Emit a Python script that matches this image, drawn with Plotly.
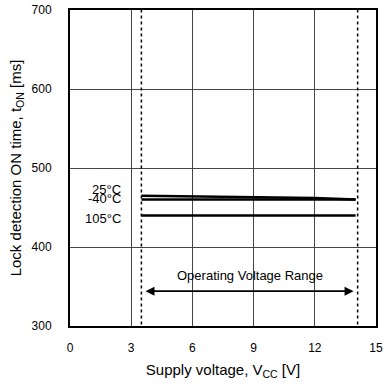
import plotly.graph_objects as go

# Data
vcc = [3.5, 6, 9, 12, 14]
t_25 = [465, 464, 463, 462, 460]
t_m40 = [460, 460, 460, 460, 460]
t_105 = [440, 440, 440, 440, 440]
series_labels = ["25°C", "-40°C", "105°C"]
label_y = [473, 461, 436]
label_x = 2.6
op_range = [3.5, 14.1]
arrow_y = 344
op_label = "Operating Voltage Range"
op_label_pos = [8.8, 364]

x_ticks = [0, 3, 6, 9, 12, 15]
y_ticks = [300, 400, 500, 600, 700]

font_family = "Liberation Sans, Arial, sans-serif"

fig = go.Figure()
for ys in [t_25, t_m40, t_105]:
    fig.add_trace(go.Scatter(x=vcc, y=ys, mode="lines",
                             line=dict(color="black", width=2.5),
                             showlegend=False, hoverinfo="skip"))

# Operating range dotted lines
for xv in op_range:
    fig.add_shape(type="line", x0=xv, x1=xv, y0=302, y1=700,
                  xref="x", yref="y",
                  line=dict(color="black", width=1.5, dash="dot"))

# Arrow (double-headed)
fig.add_annotation(x=op_range[0] + 0.2, y=arrow_y, ax=op_range[1] - 0.2, ay=arrow_y,
                   xref="x", yref="y", axref="x", ayref="y",
                   showarrow=True, arrowhead=2, arrowsize=1.2, arrowwidth=1.5,
                   arrowcolor="black", text="")
fig.add_annotation(x=op_range[1] - 0.2, y=arrow_y, ax=op_range[0] + 0.2, ay=arrow_y,
                   xref="x", yref="y", axref="x", ayref="y",
                   showarrow=True, arrowhead=2, arrowsize=1.2, arrowwidth=1.5,
                   arrowcolor="black", text="")
fig.add_annotation(x=op_label_pos[0], y=op_label_pos[1], text=op_label,
                   showarrow=False, xref="x", yref="y",
                   font=dict(size=13, color="black", family=font_family))

for lab, ly in zip(series_labels, label_y):
    fig.add_annotation(x=label_x, y=ly, text=lab, showarrow=False,
                       xref="x", yref="y", xanchor="right",
                       font=dict(size=13, color="black", family=font_family))

fig.update_layout(
    width=384, height=385,
    margin=dict(l=70, r=8, t=10, b=59),
    paper_bgcolor="white", plot_bgcolor="white",
    font=dict(family=font_family, size=12, color="black"),
    showlegend=False,
)
fig.update_xaxes(range=[0, 15], tickvals=x_ticks, ticks="", automargin=False,
                 ticklabelstandoff=10,
                 showgrid=True, gridcolor="#444", gridwidth=1,
                 showline=True, linecolor="black", linewidth=2, mirror=True,
                 zeroline=False,
                 title=dict(text="Supply voltage, V<sub>CC</sub> [V]", standoff=10,
                            font=dict(size=15)))
fig.update_yaxes(range=[300, 700], tickvals=y_ticks, ticks="", automargin=False,
                 ticklabelstandoff=14,
                 showgrid=True, gridcolor="#444", gridwidth=1,
                 showline=True, linecolor="black", linewidth=2, mirror=True,
                 zeroline=False,
                 title=dict(text="Lock detection ON time, t<sub>ON</sub> [ms]", standoff=6,
                            font=dict(size=15)))

fig.write_html("out.html", config={"displayModeBar": False},
               post_script="document.body.style.margin='0';document.body.style.padding='0';document.body.style.overflow='hidden';")
